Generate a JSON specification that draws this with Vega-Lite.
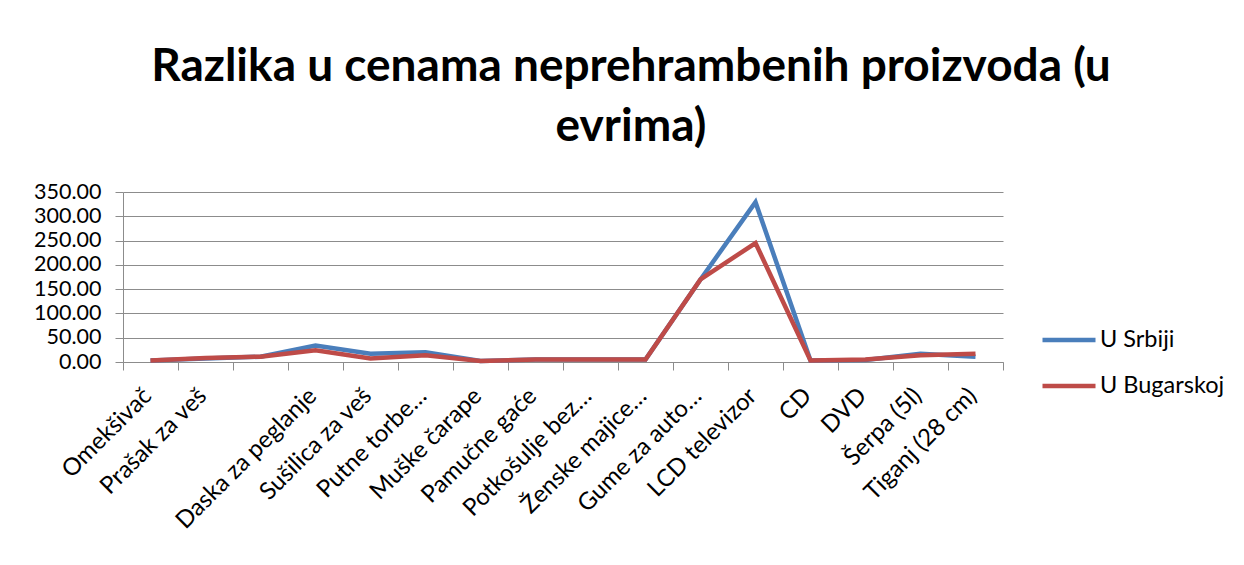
{
  "$schema": "https://vega.github.io/schema/vega-lite/v6.json",
  "width": 880,
  "height": 170,
  "autosize": {"type": "none"},
  "padding": {"left": 123, "top": 192, "right": 241, "bottom": 203},
  "background": "white",
  "config": {"view": {"stroke": null}},
  "title": {
    "text": ["Razlika u cenama neprehrambenih proizvoda (u", "evrima)"],
    "font": "Lato",
    "fontSize": 46,
    "fontWeight": "bold",
    "color": "#000000",
    "anchor": "middle",
    "dx": 68,
    "lineHeight": 60,
    "offset": 30
  },
  "data": {
    "values": [
      {"proizvod": "Omekšivač", "drzava": "U Srbiji", "cena": 3},
      {"proizvod": "Omekšivač", "drzava": "U Bugarskoj", "cena": 3},
      {"proizvod": "Prašak za veš", "drzava": "U Srbiji", "cena": 7},
      {"proizvod": "Prašak za veš", "drzava": "U Bugarskoj", "cena": 8},
      {"proizvod": " ", "drzava": "U Srbiji", "cena": 11},
      {"proizvod": " ", "drzava": "U Bugarskoj", "cena": 11},
      {"proizvod": "Daska za peglanje", "drzava": "U Srbiji", "cena": 34},
      {"proizvod": "Daska za peglanje", "drzava": "U Bugarskoj", "cena": 24},
      {"proizvod": "Sušilica za veš", "drzava": "U Srbiji", "cena": 17},
      {"proizvod": "Sušilica za veš", "drzava": "U Bugarskoj", "cena": 7},
      {"proizvod": "Putne torbe…", "drzava": "U Srbiji", "cena": 20},
      {"proizvod": "Putne torbe…", "drzava": "U Bugarskoj", "cena": 14},
      {"proizvod": "Muške čarape", "drzava": "U Srbiji", "cena": 2},
      {"proizvod": "Muške čarape", "drzava": "U Bugarskoj", "cena": 2},
      {"proizvod": "Pamučne gaće", "drzava": "U Srbiji", "cena": 5},
      {"proizvod": "Pamučne gaće", "drzava": "U Bugarskoj", "cena": 5},
      {"proizvod": "Potkošulje bez…", "drzava": "U Srbiji", "cena": 5},
      {"proizvod": "Potkošulje bez…", "drzava": "U Bugarskoj", "cena": 5},
      {"proizvod": "Ženske majice…", "drzava": "U Srbiji", "cena": 5},
      {"proizvod": "Ženske majice…", "drzava": "U Bugarskoj", "cena": 5},
      {"proizvod": "Gume za auto…", "drzava": "U Srbiji", "cena": 170},
      {"proizvod": "Gume za auto…", "drzava": "U Bugarskoj", "cena": 170},
      {"proizvod": "LCD televizor", "drzava": "U Srbiji", "cena": 329},
      {"proizvod": "LCD televizor", "drzava": "U Bugarskoj", "cena": 245},
      {"proizvod": "CD", "drzava": "U Srbiji", "cena": 3},
      {"proizvod": "CD", "drzava": "U Bugarskoj", "cena": 3},
      {"proizvod": "DVD", "drzava": "U Srbiji", "cena": 4},
      {"proizvod": "DVD", "drzava": "U Bugarskoj", "cena": 5},
      {"proizvod": "Šerpa (5l)", "drzava": "U Srbiji", "cena": 17},
      {"proizvod": "Šerpa (5l)", "drzava": "U Bugarskoj", "cena": 14},
      {"proizvod": "Tiganj (28 cm)", "drzava": "U Srbiji", "cena": 11},
      {"proizvod": "Tiganj (28 cm)", "drzava": "U Bugarskoj", "cena": 17}
    ]
  },
  "encoding": {
    "x": {
      "field": "proizvod",
      "type": "ordinal",
      "sort": null,
      "bandPosition": 0.5,
      "scale": {"type": "band", "paddingInner": 0, "paddingOuter": 0},
      "axis": {
        "title": null,
        "labelAngle": -45,
        "labelAlign": "right",
        "labelBaseline": "middle",
        "labelFont": "Lato",
        "labelFontSize": 24,
        "labelColor": "#000000",
        "labelPadding": 22,
        "labelOffset": -3,
        "labelOverlap": false,
        "labelLimit": 400,
        "tickBand": "extent",
        "tickSize": 8,
        "tickColor": "#8c8c8c",
        "domainColor": "#8c8c8c",
        "grid": false
      }
    },
    "y": {
      "field": "cena",
      "type": "quantitative",
      "scale": {"domain": [0, 350], "nice": false},
      "axis": {
        "title": null,
        "values": [0, 50, 100, 150, 200, 250, 300, 350],
        "format": ".2f",
        "labelFont": "Lato",
        "labelFontSize": 21.5,
        "labelColor": "#000000",
        "labelPadding": 14,
        "labelOverlap": false,
        "tickSize": 8,
        "tickColor": "#8c8c8c",
        "domainColor": "#8c8c8c",
        "gridColor": "#8c8c8c"
      }
    },
    "color": {
      "field": "drzava",
      "type": "nominal",
      "scale": {"domain": ["U Srbiji", "U Bugarskoj"], "range": ["#4A7EBB", "#BE4B48"]},
      "legend": {
        "orient": "none",
        "legendX": 917,
        "legendY": 119,
        "title": null,
        "symbolType": "stroke",
        "symbolSize": 2809,
        "symbolStrokeWidth": 4.5,
        "labelFont": "Lato",
        "labelFontSize": 23.5,
        "labelColor": "#000000",
        "labelOffset": 2,
        "rowPadding": 5
      }
    }
  },
  "layer": [
    {
      "transform": [{"filter": "datum.drzava === 'U Srbiji'"}],
      "mark": {"type": "line", "strokeWidth": 4.5}
    },
    {
      "transform": [{"filter": "datum.drzava === 'U Bugarskoj'"}],
      "mark": {"type": "line", "strokeWidth": 4.5}
    }
  ]
}
